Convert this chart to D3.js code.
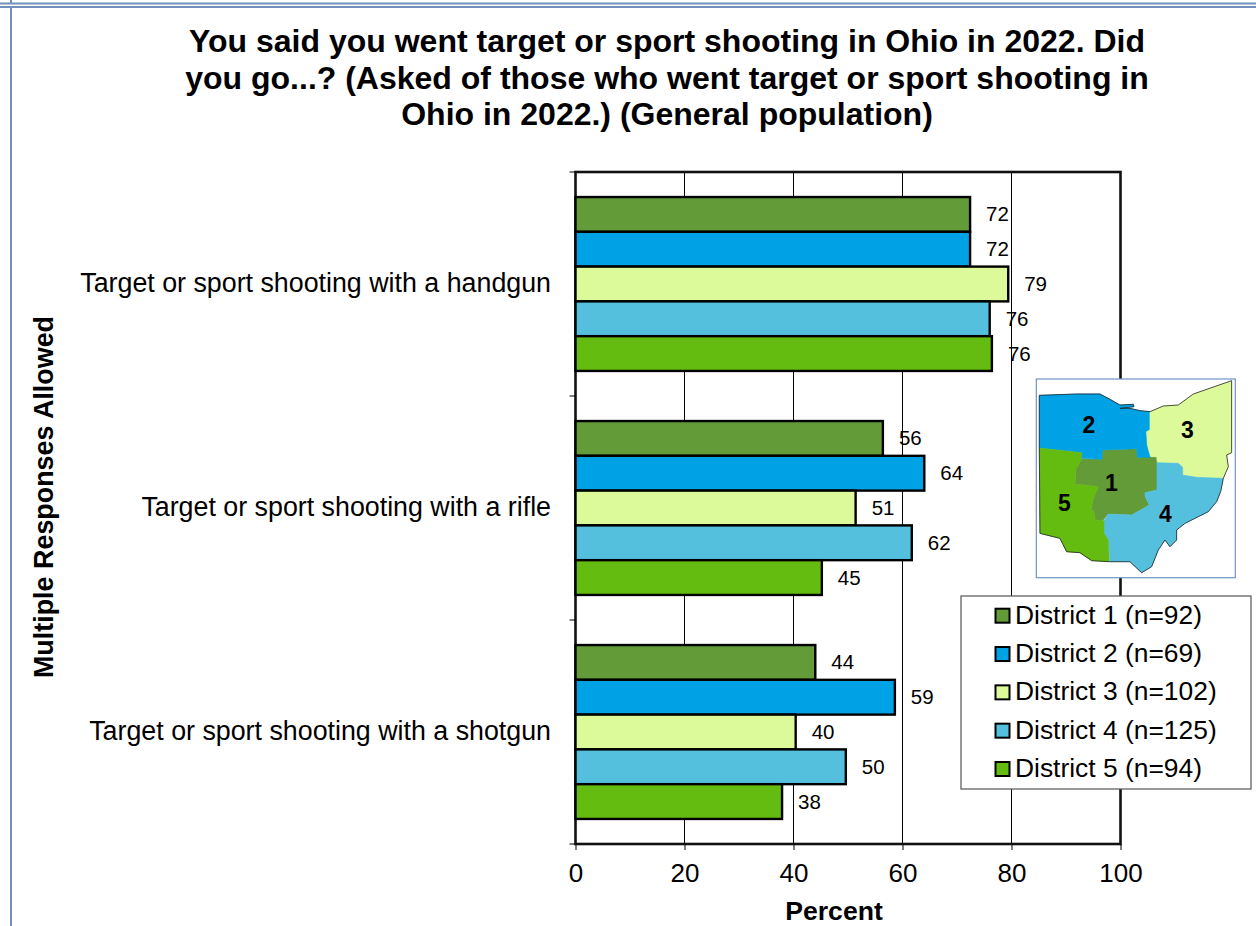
<!DOCTYPE html>
<html><head><meta charset="utf-8">
<script src="https://cdnjs.cloudflare.com/ajax/libs/d3/7.8.5/d3.min.js"></script>
<style>html,body{margin:0;padding:0;background:#fff;overflow:hidden}svg{display:block}text{font-family:"Liberation Sans",Arial,sans-serif;fill:#000}</style>
</head><body><div id="c"></div>
<script>
const titleLines=["You said you went target or sport shooting in Ohio in 2022. Did","you go...? (Asked of those who went target or sport shooting in","Ohio in 2022.) (General population)"];
const categories=["Target or sport shooting with a handgun","Target or sport shooting with a rifle","Target or sport shooting with a shotgun"];
const districts=["District 1 (n=92)","District 2 (n=69)","District 3 (n=102)","District 4 (n=125)","District 5 (n=94)"];
const colors=["#629b38","#00a2e6","#ddfa9b","#55c0dd","#64bc10"];
const district1=[72.4,56.4,44.0];
const district2=[72.4,64.0,58.6];
const district3=[79.4,51.4,40.4];
const district4=[76.0,61.7,49.6];
const district5=[76.4,45.2,37.9];
const labels1=[72,56,44];
const labels2=[72,64,59];
const labels3=[79,51,40];
const labels4=[76,62,50];
const labels5=[76,45,38];
const xTicks=[0,20,40,60,80,100];
const series=[district1,district2,district3,district4,district5];
const seriesLabels=[labels1,labels2,labels3,labels4,labels5];
// inset map outlines, in the picture's own map units
const region1=[[218,240],[320,236],[322,262],[381,260],[381,360],[345,368],[345,378],[358,405],[305,435],[235,432],[218,452],[195,450],[192,425],[183,420],[190,385],[205,350],[135,342],[138,296],[155,266],[216,268]];
const region2=[[28,76],[140,72],[210,72],[240,88],[270,105],[310,103],[312,110],[270,115],[300,115],[330,122],[360,125],[360,180],[350,185],[352,225],[362,262],[322,262],[320,236],[218,240],[216,268],[155,265],[155,248],[80,240],[28,234]];
const region3=[[360,125],[400,108],[445,105],[490,72],[605,32],[605,248],[590,255],[595,290],[580,325],[500,322],[458,315],[458,292],[445,280],[382,278],[380,260],[362,260],[352,225],[350,185],[360,180]];
const region4=[[381,278],[445,280],[458,292],[458,315],[500,322],[580,325],[572,365],[560,395],[535,425],[465,460],[440,480],[440,510],[420,530],[405,510],[385,540],[365,590],[335,608],[300,575],[240,575],[235,510],[222,490],[222,452],[235,432],[305,435],[358,405],[345,378],[345,368],[381,360]];
const region5=[[28,234],[80,240],[155,248],[155,266],[138,296],[135,342],[205,350],[190,385],[183,420],[192,425],[195,450],[222,452],[222,490],[235,510],[238,575],[185,572],[150,548],[110,545],[90,505],[30,490]];
const regions=[region1,region2,region3,region4,region5];
const shoreline=[[28,234],[28,76],[140,72],[210,72],[240,88],[270,105],[310,103],[312,110],[270,115],[300,115],[330,122],[360,125],[400,108],[445,105],[490,72],[605,32],[605,248],[590,255],[595,290],[580,325],[572,365],[560,395],[535,425],[465,460],[440,480],[440,510],[420,530],[405,510],[385,540],[365,590],[335,608],[300,575],[240,575],[185,572],[150,548],[110,545],[90,505],[30,490],[28,234]];
const regionNames=["1","2","3","4","5"];
const regionSpots=[[244,340],[177,165],[472,181],[406,432],[103,400]];

const W=1256,H=926;
const svg=d3.select("#c").append("svg").attr("width",W).attr("height",H);
const frame="#6f90b8";
[[0,3.5,W,3.5],[0,7,W,7],[11,0,11,3.5],[11,7,11,H]].forEach(a=>svg.append("line").attr("x1",a[0]).attr("y1",a[1]).attr("x2",a[2]).attr("y2",a[3]).attr("stroke",frame).attr("stroke-width",2));

svg.selectAll(".title").data(titleLines).join("text").attr("class","title").attr("x",667).attr("y",(d,i)=>52+i*36.5).attr("text-anchor","middle").attr("font-size",32).attr("font-weight","bold").text(d=>d);

const L=575.5,R=1120.5,T=172,B=844;
const x=d3.scaleLinear().domain([0,100]).range([L,R]);
const y0=d3.scaleBand().domain(categories).range([T,B]);
const y1=d3.scaleBand().domain(districts).range([0,y0.bandwidth()]).paddingOuter(0.72).paddingInner(0);
const g=svg.append("g");
// grid
g.selectAll(".grid").data(xTicks.filter(t=>t>0&&t<100)).join("line").attr("x1",d=>x(d)).attr("x2",d=>x(d)).attr("y1",T).attr("y2",B).attr("stroke","#000").attr("stroke-width",1);
g.append("rect").attr("x",L).attr("y",T).attr("width",R-L).attr("height",B-T).attr("fill","none").attr("stroke","#111").attr("stroke-width",2.6);
// bars
series.forEach((vals,s)=>{
  g.selectAll(".b"+s).data(vals).join("rect").attr("class","b"+s)
   .attr("x",L).attr("y",(d,i)=>y0(categories[i])+y1(districts[s]))
   .attr("width",d=>x(d)-L).attr("height",y1.bandwidth())
   .attr("fill",colors[s]).attr("stroke","#000").attr("stroke-width",2.4);
  g.selectAll(".l"+s).data(vals).join("text").attr("class","l"+s)
   .attr("x",d=>x(d)+16).attr("y",(d,i)=>y0(categories[i])+y1(districts[s])+y1.bandwidth()/2+7)
   .attr("font-size",20.5).text((d,i)=>seriesLabels[s][i]);
});
// axes
const xa=svg.append("g").attr("transform",`translate(0,${B})`).call(d3.axisBottom(x).tickValues(xTicks).tickSize(6).tickPadding(14));
xa.select(".domain").remove();
xa.selectAll("line").attr("stroke","#000").attr("stroke-width",1);
xa.selectAll("text").attr("font-size",26).attr("font-family","Liberation Sans").attr("fill","#000");
const yEdges=d3.scaleLinear().domain([0,3]).range([T,B]);
svg.selectAll(".yt").data(d3.range(4)).join("line").attr("x1",L-6).attr("x2",L).attr("y1",d=>yEdges(d)).attr("y2",d=>yEdges(d)).attr("stroke","#000").attr("stroke-width",1);
svg.selectAll(".cat").data(categories).join("text").attr("x",551).attr("y",d=>y0(d)+y0.bandwidth()/2+8).attr("text-anchor","end").attr("font-size",26.8).text(d=>d);
svg.append("text").attr("x",834).attr("y",920).attr("text-anchor","middle").attr("font-size",26.6).attr("font-weight","bold").text("Percent");
svg.append("text").attr("transform","translate(53,497) rotate(-90)").attr("text-anchor","middle").attr("font-size",26.9).attr("font-weight","bold").text("Multiple Responses Allowed");

// inset map
const mx=d3.scaleLinear().domain([19,616]).range([1036.3,1235.3]);
const my=d3.scaleLinear().domain([27,623]).range([379,577.7]);
const line=d3.line().x(d=>mx(d[0])).y(d=>my(d[1]));
svg.append("rect").attr("x",mx(19)).attr("y",my(27)).attr("width",mx(616)-mx(19)).attr("height",my(623)-my(27)).attr("fill","#fff").attr("stroke","#6f93c6").attr("stroke-width",1.2);
svg.selectAll(".reg").data(regions).join("path").attr("d",d=>line(d)+"Z").attr("fill",(d,i)=>colors[i]).attr("stroke",(d,i)=>colors[i]).attr("stroke-width",0.6);
svg.append("path").attr("d",line(shoreline)).attr("fill","none").attr("stroke","#222").attr("stroke-width",0.8);
svg.selectAll(".rn").data(regionNames).join("text").attr("x",(d,i)=>mx(regionSpots[i][0])).attr("y",(d,i)=>my(regionSpots[i][1])+8).attr("text-anchor","middle").attr("font-size",23).attr("font-weight","bold").text(d=>d);

// legend
svg.append("rect").attr("x",961).attr("y",596).attr("width",290).attr("height",193).attr("fill","#fff").attr("stroke","#555").attr("stroke-width",1.2);
const ly=d3.scalePoint().domain(districts).range([615.7,769]);
svg.selectAll(".sw").data(districts).join("rect").attr("x",995.5).attr("y",d=>ly(d)-7).attr("width",14).attr("height",14).attr("fill",(d,i)=>colors[i]).attr("stroke","#000").attr("stroke-width",2);
svg.selectAll(".lt").data(districts).join("text").attr("x",1015).attr("y",d=>ly(d)+8).attr("font-size",26.4).text(d=>d);
</script></body></html>
